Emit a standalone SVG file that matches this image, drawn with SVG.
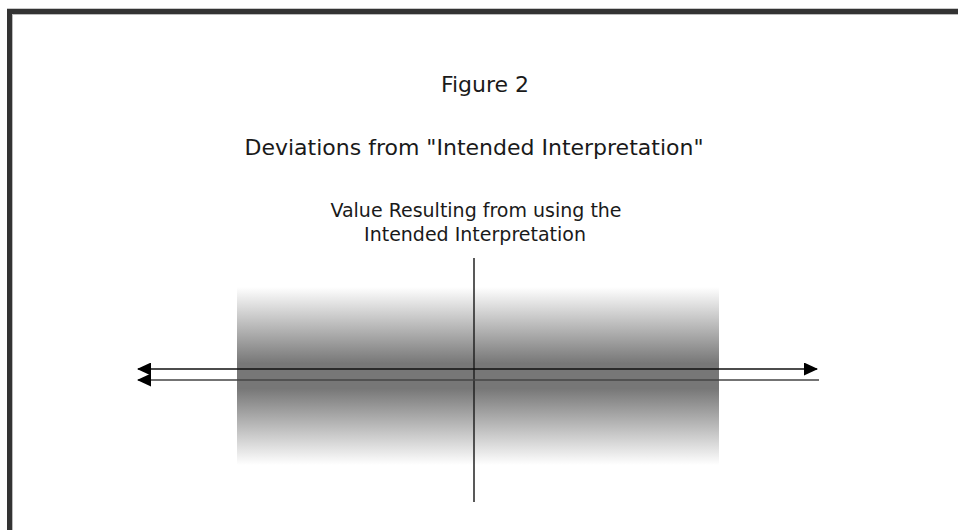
<svg xmlns="http://www.w3.org/2000/svg" width="958" height="530" viewBox="0 0 958 530">
  <defs>
    <linearGradient id="band" x1="0" y1="0" x2="0" y2="1">
      <stop offset="0" stop-color="#ffffff"/>
      <stop offset="0.43" stop-color="#777777"/>
      <stop offset="0.57" stop-color="#777777"/>
      <stop offset="1" stop-color="#ffffff"/>
    </linearGradient>
    <marker id="head" viewBox="0 0 14 13" refX="13" refY="6.5" markerWidth="14" markerHeight="13" markerUnits="userSpaceOnUse" orient="auto-start-reverse">
      <path d="M0,0 L14,6.5 L0,13 Z" fill="#000"/>
    </marker>
  </defs>
  <style>
    text { font-family: "DejaVu Sans", Verdana, sans-serif; fill: #1a1a1a; text-anchor: middle; }
    .title { font-size: 22px; }
    .label { font-size: 19px; }
  </style>
  <rect x="0" y="0" width="958" height="530" fill="#ffffff"/>
  <g id="frame">
    <rect x="7" y="8" width="951" height="1" fill="#c8c8c8"/>
    <rect x="7" y="9" width="951" height="5" fill="#333333"/>
    <rect x="7" y="9" width="5" height="521" fill="#333333"/>
    <rect x="12" y="14" width="946" height="1" fill="#bbbbbb"/>
    <rect x="12" y="14" width="1" height="516" fill="#bbbbbb"/>
  </g>
  <g id="figure-label">
    <text class="title" x="485" y="92">Figure 2</text>
  </g>
  <g id="title">
    <text class="title" x="474" y="155">Deviations from "Intended Interpretation"</text>
  </g>
  <g id="deviation-band">
    <rect x="237" y="287" width="482" height="178" fill="url(#band)"/>
  </g>
  <g id="intended-value-label">
    <text class="label" x="476" y="217">Value Resulting from using the</text>
    <text class="label" x="475" y="241">Intended Interpretation</text>
  </g>
  <g id="connectors">
    <line x1="474" y1="258" x2="474" y2="502" stroke="#222" stroke-width="1.5"/>
    <line x1="138" y1="369" x2="817" y2="369" stroke="#111" stroke-width="1.5" marker-start="url(#head)" marker-end="url(#head)"/>
    <line x1="138" y1="380" x2="819" y2="380" stroke="#444" stroke-width="1.5" marker-start="url(#head)"/>
  </g>
</svg>
